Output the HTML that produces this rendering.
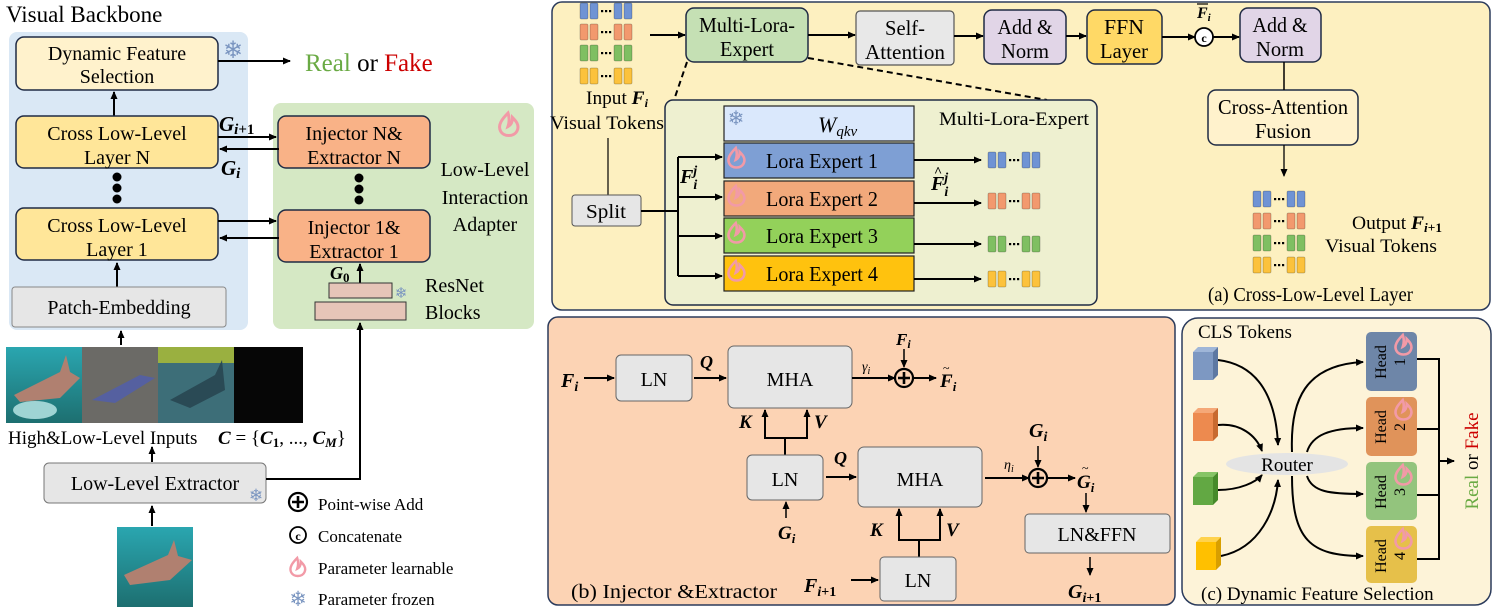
<!DOCTYPE html>
<html><head><meta charset="utf-8">
<style>
html,body{margin:0;padding:0;background:#fff;}
svg{display:block;font-family:"Liberation Serif",serif;}
.b{stroke:#1f2a44;stroke-width:1.5;}
.it{font-style:italic;font-weight:bold;}
</style></head><body>
<svg width="1495" height="607" viewBox="0 0 1495 607" xmlns="http://www.w3.org/2000/svg">
<defs>
<marker id="ar" markerWidth="8" markerHeight="8" refX="7" refY="4" orient="auto" markerUnits="userSpaceOnUse">
<path d="M0,0.5 L8,4 L0,7.5 z" fill="#000"/></marker>
<g id="tk">
<rect x="0" y="0" width="8" height="16" rx="1.5" stroke-width="0.8" stroke="#0004"/>
<rect x="10" y="0" width="8" height="16" rx="1.5" stroke-width="0.8" stroke="#0004"/>
<rect x="21" y="7" width="2.2" height="2.2" fill="#000"/><rect x="25" y="7" width="2.2" height="2.2" fill="#000"/><rect x="29" y="7" width="2.2" height="2.2" fill="#000"/>
<rect x="34" y="0" width="8" height="16" rx="1.5" stroke-width="0.8" stroke="#0004"/>
<rect x="44" y="0" width="8" height="16" rx="1.5" stroke-width="0.8" stroke="#0004"/>
</g>
<g id="fire"><path d="M6,0 C2,4 -1,8 1,12 C3,16 10,16 12,12 C14,8 11,5 9,3 C9,6 8,8 6,9 C7,6 7,3 6,0 z" fill="none" stroke="#f29aa7" stroke-width="2"/></g>
<linearGradient id="sea" x1="0" y1="0" x2="0" y2="1"><stop offset="0" stop-color="#2aa6b0"/><stop offset="1" stop-color="#1d6f70"/></linearGradient>
</defs>

<!-- ===== LEFT ===== -->
<text x="6" y="22" font-size="23">Visual Backbone</text>
<rect x="9" y="32" width="239" height="298" rx="8" fill="#dae8f5"/>
<rect x="273" y="103" width="261" height="226" rx="8" fill="#d5e8c4"/>

<rect x="16" y="37" width="202" height="53" rx="8" fill="#fff2cc" class="b"/>
<text x="117" y="60" font-size="20" text-anchor="middle">Dynamic Feature</text>
<text x="117" y="83" font-size="20" text-anchor="middle">Selection</text>
<text x="233" y="58" font-size="24" fill="#7a95c0" text-anchor="middle">❄</text>
<line x1="218" y1="61" x2="290" y2="61" stroke="#000" stroke-width="2" marker-end="url(#ar)"/>
<text x="305" y="71" font-size="25"><tspan fill="#6aaa44">Real</tspan> or <tspan fill="#cc0000">Fake</tspan></text>

<line x1="114" y1="116" x2="114" y2="92" stroke="#000" stroke-width="2" marker-end="url(#ar)"/>
<rect x="16" y="116" width="202" height="52" rx="8" fill="#ffe699" class="b"/>
<text x="117" y="140" font-size="20" text-anchor="middle">Cross Low-Level</text>
<text x="117" y="164" font-size="20" text-anchor="middle">Layer N</text>
<circle cx="117" cy="177" r="4.5"/><circle cx="117" cy="188" r="4.5"/><circle cx="117" cy="199" r="4.5"/>
<rect x="16" y="208" width="202" height="52" rx="8" fill="#ffe699" class="b"/>
<text x="117" y="232" font-size="20" text-anchor="middle">Cross Low-Level</text>
<text x="117" y="256" font-size="20" text-anchor="middle">Layer 1</text>
<line x1="117" y1="287" x2="117" y2="263" stroke="#000" stroke-width="2" marker-end="url(#ar)"/>
<rect x="12" y="287" width="214" height="40" rx="3" fill="#e6e6e6" stroke="#888" stroke-width="1"/>
<text x="119" y="314" font-size="20" text-anchor="middle">Patch-Embedding</text>

<rect x="278" y="116" width="152" height="52" rx="8" fill="#f9b287" class="b"/>
<text x="354" y="140" font-size="20" text-anchor="middle">Injector N&amp;</text>
<text x="354" y="164" font-size="20" text-anchor="middle">Extractor N</text>
<circle cx="359" cy="178" r="4.5"/><circle cx="359" cy="189" r="4.5"/><circle cx="359" cy="200" r="4.5"/>
<rect x="278" y="210" width="152" height="52" rx="8" fill="#f9b287" class="b"/>
<text x="354" y="234" font-size="20" text-anchor="middle">Injector 1&amp;</text>
<text x="354" y="258" font-size="20" text-anchor="middle">Extractor 1</text>

<line x1="218" y1="137" x2="276" y2="137" stroke="#000" stroke-width="2" marker-end="url(#ar)"/>
<line x1="279" y1="149" x2="220" y2="149" stroke="#000" stroke-width="2" marker-end="url(#ar)"/>
<line x1="218" y1="221" x2="276" y2="221" stroke="#000" stroke-width="2" marker-end="url(#ar)"/>
<line x1="279" y1="238" x2="220" y2="238" stroke="#000" stroke-width="2" marker-end="url(#ar)"/>
<text x="219" y="131" font-size="21" class="it">G<tspan font-size="15" dy="3">i</tspan><tspan font-size="15" font-style="normal">+1</tspan></text>
<text x="221" y="175" font-size="21" class="it">G<tspan font-size="15" dy="3">i</tspan></text>

<use href="#fire" transform="translate(499,113) scale(1.5)"/>
<text x="485" y="176" font-size="20" text-anchor="middle">Low-Level</text>
<text x="485" y="204" font-size="20" text-anchor="middle">Interaction</text>
<text x="485" y="231" font-size="20" text-anchor="middle">Adapter</text>

<text x="330" y="279" font-size="18" class="it">G<tspan font-size="13" dy="3" font-style="normal">0</tspan></text>
<line x1="360" y1="283" x2="360" y2="264" stroke="#000" stroke-width="2" marker-end="url(#ar)"/>
<rect x="329" y="283" width="63" height="15" fill="#e6c5b8" stroke="#333" stroke-width="1"/>
<rect x="315" y="302" width="91" height="18" fill="#e6c5b8" stroke="#333" stroke-width="1"/>
<text x="401" y="298" font-size="15" fill="#7a95c0" text-anchor="middle">❄</text>
<text x="425" y="292" font-size="20">ResNet</text>
<text x="425" y="319" font-size="20">Blocks</text>

<line x1="121" y1="345" x2="121" y2="331" stroke="#000" stroke-width="2" marker-end="url(#ar)"/>
<rect x="6" y="347" width="76" height="76" fill="url(#sea)"/>
<path d="M14,395 L60,372 L66,355 L70,372 L80,378 L60,398 L20,402 z" fill="#b08070"/>
<ellipse cx="35" cy="410" rx="22" ry="9" fill="#9fd4d4"/>
<rect x="82" y="347" width="76" height="76" fill="#6b6a66"/>
<path d="M92,400 L140,375 L155,378 L115,403 z" fill="#5560a0"/>
<rect x="158" y="347" width="76" height="76" fill="#3d6e78"/>
<rect x="158" y="347" width="76" height="16" fill="#9ab040"/>
<path d="M170,400 L215,375 L222,360 L225,390 L190,408 z" fill="#2a4a55"/>
<rect x="234" y="347" width="69" height="76" fill="#060606"/>
<text x="8" y="444" font-size="19">High&amp;Low-Level Inputs</text>
<text x="218" y="444" font-size="19" class="it">C <tspan font-style="normal" font-weight="normal">= {</tspan>C<tspan font-size="13" dy="3" font-style="normal">1</tspan><tspan dy="-3" font-style="normal" font-weight="normal">, ..., </tspan>C<tspan font-size="13" dy="3">M</tspan><tspan dy="-3" font-style="normal" font-weight="normal">}</tspan></text>
<line x1="152" y1="462" x2="152" y2="447" stroke="#000" stroke-width="2" marker-end="url(#ar)"/>
<rect x="44" y="463" width="222" height="40" rx="5" fill="#e6e6e6" stroke="#777" stroke-width="1"/>
<text x="155" y="490" font-size="20" text-anchor="middle">Low-Level Extractor</text>
<text x="256" y="501" font-size="17" fill="#7a95c0" text-anchor="middle">❄</text>
<polyline points="266,479 360,479 360,323" fill="none" stroke="#000" stroke-width="2" marker-end="url(#ar)"/>
<line x1="152" y1="526" x2="152" y2="506" stroke="#000" stroke-width="2" marker-end="url(#ar)"/>
<rect x="117" y="527" width="76" height="80" fill="url(#sea)"/>
<path d="M124,575 L168,555 L174,540 L178,556 L192,560 L170,580 L130,585 z" fill="#b08070"/>
<circle cx="298" cy="502" r="9" fill="none" stroke="#000" stroke-width="2.2"/>
<path d="M292,502 H304 M298,496 V508" stroke="#000" stroke-width="2.6"/>
<text x="318" y="510" font-size="17">Point-wise Add</text>
<circle cx="298" cy="535" r="8" fill="none" stroke="#000" stroke-width="1.8"/>
<text x="298" y="540" font-size="12" text-anchor="middle" font-weight="bold">c</text>
<text x="318" y="542" font-size="17">Concatenate</text>
<use href="#fire" transform="translate(290,558) scale(1.2)"/>
<text x="318" y="574" font-size="17">Parameter learnable</text>
<text x="298" y="606" font-size="21" fill="#7a95c0" text-anchor="middle">❄</text>
<text x="318" y="605" font-size="17">Parameter frozen</text>

<!-- ===== PANEL A ===== -->
<rect x="552" y="2" width="938" height="308" rx="10" fill="#fdf0c0" stroke="#2b3b5c" stroke-width="1.5"/>
<use href="#tk" x="580" y="3" fill="#6f93d4"/>
<use href="#tk" x="580" y="24" fill="#f2996e"/>
<use href="#tk" x="580" y="45" fill="#7fbf62"/>
<use href="#tk" x="580" y="68" fill="#fcc23c"/>
<line x1="650" y1="35" x2="685" y2="35" stroke="#000" stroke-width="2" marker-end="url(#ar)"/>
<g font-size="21">
<rect x="686" y="8" width="122" height="54" rx="8" fill="#c5e0b4" class="b"/>
<text x="747" y="32" text-anchor="middle" textLength="96" lengthAdjust="spacingAndGlyphs">Multi-Lora-</text>
<text x="747" y="56" text-anchor="middle" textLength="54" lengthAdjust="spacingAndGlyphs">Expert</text>
<line x1="808" y1="35" x2="855" y2="35" stroke="#000" stroke-width="2" marker-end="url(#ar)"/>
<rect x="856" y="11" width="98" height="54" rx="4" fill="#e8e8e8" stroke="#555" stroke-width="1.2"/>
<text x="905" y="35" text-anchor="middle" textLength="40" lengthAdjust="spacingAndGlyphs">Self-</text>
<text x="905" y="59" text-anchor="middle" textLength="80" lengthAdjust="spacingAndGlyphs">Attention</text>
<line x1="954" y1="36" x2="983" y2="36" stroke="#000" stroke-width="2" marker-end="url(#ar)"/>
<rect x="984" y="10" width="82" height="54" rx="8" fill="#e1d5e7" class="b"/>
<text x="1025" y="34" text-anchor="middle" textLength="55" lengthAdjust="spacingAndGlyphs">Add &amp;</text>
<text x="1025" y="58" text-anchor="middle" textLength="48" lengthAdjust="spacingAndGlyphs">Norm</text>
<line x1="1066" y1="36" x2="1086" y2="36" stroke="#000" stroke-width="2" marker-end="url(#ar)"/>
<rect x="1087" y="10" width="75" height="54" rx="8" fill="#ffd966" class="b"/>
<text x="1124" y="34" text-anchor="middle" textLength="40" lengthAdjust="spacingAndGlyphs">FFN</text>
<text x="1124" y="58" text-anchor="middle" textLength="48" lengthAdjust="spacingAndGlyphs">Layer</text>
<rect x="1240" y="8" width="81" height="54" rx="8" fill="#e1d5e7" class="b"/>
<text x="1280" y="32" text-anchor="middle" textLength="55" lengthAdjust="spacingAndGlyphs">Add &amp;</text>
<text x="1280" y="56" text-anchor="middle" textLength="48" lengthAdjust="spacingAndGlyphs">Norm</text>
<rect x="1208" y="90" width="150" height="55" rx="8" fill="#fff2cc" class="b"/>
<text x="1283" y="114" text-anchor="middle" textLength="130" lengthAdjust="spacingAndGlyphs">Cross-Attention</text>
<text x="1283" y="138" text-anchor="middle" textLength="56" lengthAdjust="spacingAndGlyphs">Fusion</text>
</g>
<line x1="1162" y1="37" x2="1195" y2="37" stroke="#000" stroke-width="2" marker-end="url(#ar)"/>
<circle cx="1204" cy="37" r="9" fill="#fff" stroke="#000" stroke-width="1.8"/>
<text x="1204" y="42" font-size="12" text-anchor="middle" font-weight="bold">c</text>
<text x="1197" y="18" font-size="16" class="it">F<tspan font-size="11" dy="3">i</tspan></text>
<line x1="1197" y1="4" x2="1208" y2="4" stroke="#000" stroke-width="1.2"/>
<line x1="1213" y1="37" x2="1239" y2="37" stroke="#000" stroke-width="2" marker-end="url(#ar)"/>
<line x1="1284" y1="62" x2="1284" y2="90" stroke="#000" stroke-width="1.5"/>
<line x1="1284" y1="145" x2="1284" y2="176" stroke="#000" stroke-width="1.3" marker-end="url(#ar)"/>
<use href="#tk" x="1253" y="191" fill="#6f93d4"/>
<use href="#tk" x="1253" y="213" fill="#f2996e"/>
<use href="#tk" x="1253" y="235" fill="#7fbf62"/>
<use href="#tk" x="1253" y="257" fill="#fcc23c"/>
<text x="1352" y="229" font-size="19" textLength="90" lengthAdjust="spacingAndGlyphs">Output <tspan class="it">F</tspan><tspan font-size="13" dy="3" class="it">i</tspan><tspan font-size="13" font-weight="bold">+1</tspan></text>
<text x="1325" y="252" font-size="19" textLength="112" lengthAdjust="spacingAndGlyphs">Visual Tokens</text>
<text x="1208" y="301" font-size="20" textLength="205" lengthAdjust="spacingAndGlyphs">(a)  Cross-Low-Level Layer</text>

<text x="586" y="104" font-size="19" textLength="62" lengthAdjust="spacingAndGlyphs">Input <tspan class="it">F</tspan><tspan font-size="12" dy="3" class="it">i</tspan></text>
<text x="550" y="129" font-size="19" textLength="114" lengthAdjust="spacingAndGlyphs">Visual Tokens</text>
<line x1="608" y1="138" x2="608" y2="196" stroke="#000" stroke-width="1.2"/>
<line x1="687" y1="62" x2="674" y2="100" stroke="#000" stroke-width="2" stroke-dasharray="6,4"/>
<line x1="808" y1="58" x2="1047" y2="100" stroke="#000" stroke-width="2" stroke-dasharray="6,4"/>
<rect x="665" y="100" width="432" height="205" rx="8" fill="#eef0d0" class="b"/>
<text x="1089" y="125" font-size="19" text-anchor="end" textLength="150" lengthAdjust="spacingAndGlyphs">Multi-Lora-Expert</text>
<rect x="572" y="195" width="69" height="31" rx="3" fill="#e6e6e6" stroke="#555" stroke-width="1"/>
<text x="606" y="218" font-size="20" text-anchor="middle" textLength="40" lengthAdjust="spacingAndGlyphs">Split</text>
<line x1="641" y1="211" x2="678" y2="211" stroke="#000" stroke-width="2"/>
<line x1="678" y1="157" x2="678" y2="276" stroke="#000" stroke-width="2"/>
<line x1="678" y1="157" x2="722" y2="157" stroke="#000" stroke-width="2" marker-end="url(#ar)"/>
<line x1="678" y1="197" x2="722" y2="197" stroke="#000" stroke-width="2" marker-end="url(#ar)"/>
<line x1="678" y1="236" x2="722" y2="236" stroke="#000" stroke-width="2" marker-end="url(#ar)"/>
<line x1="678" y1="276" x2="722" y2="276" stroke="#000" stroke-width="2" marker-end="url(#ar)"/>
<text x="680" y="183" font-size="20" class="it">F<tspan font-size="14" dy="6">i</tspan><tspan font-size="14" dx="-4" dy="-14">j</tspan></text>
<rect x="724" y="106" width="190" height="35" fill="#dae8fc" stroke="#222" stroke-width="1.2"/>
<text x="736" y="125" font-size="20" fill="#7a95c0" text-anchor="middle">❄</text>
<text x="818" y="132" font-size="22" font-style="italic">W<tspan font-size="15" dy="4">qkv</tspan></text>
<rect x="724" y="143" width="190" height="35" fill="#7e9fd4" stroke="#222" stroke-width="1.2"/>
<rect x="724" y="181" width="190" height="35" fill="#f2a97b" stroke="#222" stroke-width="1.2"/>
<rect x="724" y="218" width="190" height="35" fill="#93d15a" stroke="#222" stroke-width="1.2"/>
<rect x="724" y="256" width="190" height="35" fill="#ffc20e" stroke="#222" stroke-width="1.2"/>
<use href="#fire" transform="translate(728,148) scale(1.3)"/>
<use href="#fire" transform="translate(728,186) scale(1.3)"/>
<use href="#fire" transform="translate(728,223) scale(1.3)"/>
<use href="#fire" transform="translate(728,261) scale(1.3)"/>
<g font-size="21">
<text x="822" y="168" text-anchor="middle" textLength="112" lengthAdjust="spacingAndGlyphs">Lora Expert 1</text>
<text x="822" y="206" text-anchor="middle" textLength="112" lengthAdjust="spacingAndGlyphs">Lora Expert 2</text>
<text x="822" y="243" text-anchor="middle" textLength="112" lengthAdjust="spacingAndGlyphs">Lora Expert 3</text>
<text x="822" y="281" text-anchor="middle" textLength="112" lengthAdjust="spacingAndGlyphs">Lora Expert 4</text>
</g>
<line x1="914" y1="160" x2="981" y2="160" stroke="#000" stroke-width="2" marker-end="url(#ar)"/>
<line x1="914" y1="203" x2="981" y2="203" stroke="#000" stroke-width="2" marker-end="url(#ar)"/>
<line x1="914" y1="244" x2="981" y2="244" stroke="#000" stroke-width="2" marker-end="url(#ar)"/>
<line x1="914" y1="279" x2="981" y2="279" stroke="#000" stroke-width="2" marker-end="url(#ar)"/>
<use href="#tk" x="988" y="152" fill="#6f93d4"/>
<use href="#tk" x="988" y="193" fill="#f2996e"/>
<use href="#tk" x="988" y="236" fill="#7fbf62"/>
<use href="#tk" x="988" y="271" fill="#fcc23c"/>
<text x="931" y="190" font-size="20" class="it">F<tspan font-size="14" dy="6">i</tspan><tspan font-size="14" dx="-4" dy="-14">j</tspan></text>
<text x="934" y="176" font-size="14" font-weight="bold">^</text>

<!-- ===== PANEL B ===== -->
<rect x="548" y="317" width="627" height="288" rx="10" fill="#fcd3b4" stroke="#2b3b5c" stroke-width="1.5"/>
<text x="561" y="387" font-size="20" class="it">F<tspan font-size="14" dy="4">i</tspan></text>
<line x1="584" y1="378" x2="614" y2="378" stroke="#000" stroke-width="2" marker-end="url(#ar)"/>
<rect x="616" y="355" width="76" height="46" rx="5" fill="#e6e6e6" stroke="#666" stroke-width="1"/>
<text x="654" y="386" font-size="20" text-anchor="middle">LN</text>
<text x="700" y="368" font-size="18" class="it">Q</text>
<line x1="694" y1="378" x2="726" y2="378" stroke="#000" stroke-width="2" marker-end="url(#ar)"/>
<rect x="728" y="346" width="124" height="62" rx="6" fill="#e6e6e6" stroke="#666" stroke-width="1"/>
<text x="790" y="386" font-size="20" text-anchor="middle">MHA</text>
<text x="862" y="371" font-size="14" font-style="italic">γ<tspan font-size="10" dy="3">i</tspan></text>
<line x1="852" y1="378" x2="895" y2="378" stroke="#000" stroke-width="2" marker-end="url(#ar)"/>
<circle cx="904" cy="378" r="9" fill="none" stroke="#000" stroke-width="2.2"/>
<path d="M898,378 H910 M904,372 V384" stroke="#000" stroke-width="2.6"/>
<text x="896" y="345" font-size="17" class="it">F<tspan font-size="12" dy="3">i</tspan></text>
<line x1="904" y1="349" x2="904" y2="367" stroke="#000" stroke-width="1.5" marker-end="url(#ar)"/>
<line x1="913" y1="378" x2="936" y2="378" stroke="#000" stroke-width="2" marker-end="url(#ar)"/>
<text x="940" y="387" font-size="19" class="it">F<tspan font-size="13" dy="4">i</tspan></text>
<text x="943" y="372" font-size="12">~</text>
<polyline points="765,410 765,438 807,438 807,410" fill="none" stroke="#000" stroke-width="2"/>
<line x1="765" y1="420" x2="765" y2="410" stroke="#000" stroke-width="2" marker-end="url(#ar)"/>
<line x1="807" y1="420" x2="807" y2="410" stroke="#000" stroke-width="2" marker-end="url(#ar)"/>
<line x1="785" y1="438" x2="785" y2="455" stroke="#000" stroke-width="2"/>
<text x="739" y="428" font-size="19" class="it">K</text>
<text x="814" y="428" font-size="19" class="it">V</text>
<rect x="747" y="455" width="76" height="45" rx="5" fill="#e6e6e6" stroke="#666" stroke-width="1"/>
<text x="785" y="486" font-size="20" text-anchor="middle">LN</text>
<line x1="786" y1="518" x2="786" y2="502" stroke="#000" stroke-width="1.5" marker-end="url(#ar)"/>
<text x="778" y="539" font-size="19" class="it">G<tspan font-size="13" dy="4">i</tspan></text>
<text x="834" y="464" font-size="18" class="it">Q</text>
<line x1="826" y1="477" x2="856" y2="477" stroke="#000" stroke-width="2" marker-end="url(#ar)"/>
<rect x="858" y="447" width="124" height="60" rx="6" fill="#e6e6e6" stroke="#666" stroke-width="1"/>
<text x="920" y="486" font-size="20" text-anchor="middle">MHA</text>
<text x="1004" y="469" font-size="14" font-style="italic">η<tspan font-size="10" dy="3">i</tspan></text>
<line x1="985" y1="478" x2="1029" y2="478" stroke="#000" stroke-width="2" marker-end="url(#ar)"/>
<circle cx="1038" cy="478" r="9" fill="none" stroke="#000" stroke-width="2.2"/>
<path d="M1032,478 H1044 M1038,472 V484" stroke="#000" stroke-width="2.6"/>
<text x="1029" y="437" font-size="20" class="it">G<tspan font-size="14" dy="4">i</tspan></text>
<line x1="1038" y1="446" x2="1038" y2="467" stroke="#000" stroke-width="1.5" marker-end="url(#ar)"/>
<line x1="1047" y1="478" x2="1075" y2="478" stroke="#000" stroke-width="2" marker-end="url(#ar)"/>
<text x="1077" y="488" font-size="19" class="it">G<tspan font-size="13" dy="4">i</tspan></text>
<text x="1082" y="472" font-size="12">~</text>
<line x1="1086" y1="493" x2="1086" y2="512" stroke="#000" stroke-width="1.5" marker-end="url(#ar)"/>
<rect x="1025" y="514" width="145" height="39" rx="4" fill="#e6e6e6" stroke="#666" stroke-width="1"/>
<text x="1097" y="541" font-size="20" text-anchor="middle">LN&amp;FFN</text>
<line x1="1090" y1="557" x2="1090" y2="575" stroke="#000" stroke-width="1.5" marker-end="url(#ar)"/>
<text x="1068" y="598" font-size="20" class="it">G<tspan font-size="14" dy="4">i</tspan><tspan font-size="14" font-style="normal">+1</tspan></text>
<polyline points="899,509 899,540 940,540 940,509" fill="none" stroke="#000" stroke-width="2"/>
<line x1="899" y1="520" x2="899" y2="509" stroke="#000" stroke-width="2" marker-end="url(#ar)"/>
<line x1="940" y1="520" x2="940" y2="509" stroke="#000" stroke-width="2" marker-end="url(#ar)"/>
<line x1="919" y1="540" x2="919" y2="557" stroke="#000" stroke-width="2"/>
<text x="870" y="536" font-size="19" class="it">K</text>
<text x="946" y="536" font-size="19" class="it">V</text>
<rect x="880" y="557" width="76" height="44" rx="4" fill="#e6e6e6" stroke="#666" stroke-width="1"/>
<text x="918" y="587" font-size="20" text-anchor="middle">LN</text>
<text x="804" y="592" font-size="20" class="it">F<tspan font-size="14" dy="4">i</tspan><tspan font-size="14" font-style="normal">+1</tspan></text>
<line x1="851" y1="580" x2="878" y2="580" stroke="#000" stroke-width="2" marker-end="url(#ar)"/>
<text x="571" y="598" font-size="20" textLength="206" lengthAdjust="spacingAndGlyphs">(b) Injector &amp;Extractor</text>

<!-- ===== PANEL C ===== -->
<rect x="1182" y="318" width="309" height="287" rx="16" fill="#fdf3d8" stroke="#2b3b5c" stroke-width="1.5"/>
<text x="1198" y="338" font-size="19">CLS Tokens</text>
<g stroke="none">
<rect x="1193" y="352" width="20" height="28" fill="#7d98c2"/><path d="M1193,352 l5,-5 h20 l-5,5z" fill="#9fb6d8"/><path d="M1213,352 l5,-5 v28 l-5,5z" fill="#5d78a2"/>
<rect x="1193" y="413" width="20" height="28" fill="#ed8a4f"/><path d="M1193,413 l5,-5 h20 l-5,5z" fill="#f5a878"/><path d="M1213,413 l5,-5 v28 l-5,5z" fill="#c86a30"/>
<rect x="1193" y="477" width="20" height="28" fill="#62a843"/><path d="M1193,477 l5,-5 h20 l-5,5z" fill="#86c466"/><path d="M1213,477 l5,-5 v28 l-5,5z" fill="#468a2a"/>
<rect x="1196" y="542" width="20" height="28" fill="#ffc000"/><path d="M1196,542 l5,-5 h20 l-5,5z" fill="#ffd24d"/><path d="M1216,542 l5,-5 v28 l-5,5z" fill="#d89f00"/>
</g>
<ellipse cx="1287" cy="464" rx="61" ry="11" fill="#e4e4e4"/>
<text x="1287" y="471" font-size="19" text-anchor="middle">Router</text>
<g fill="none" stroke="#000" stroke-width="2">
<path d="M1218,360 C1260,365 1276,400 1278,445" marker-end="url(#ar)"/>
<path d="M1218,425 C1240,423 1256,435 1262,451" marker-end="url(#ar)"/>
<path d="M1218,490 C1240,490 1256,482 1262,475" marker-end="url(#ar)"/>
<path d="M1221,556 C1260,548 1276,510 1278,480" marker-end="url(#ar)"/>
<path d="M1292,452 C1290,400 1305,365 1363,362" marker-end="url(#ar)"/>
<path d="M1307,452 C1312,435 1330,428 1363,428" marker-end="url(#ar)"/>
<path d="M1307,476 C1312,492 1330,494 1363,494" marker-end="url(#ar)"/>
<path d="M1292,476 C1292,540 1310,556 1363,556" marker-end="url(#ar)"/>
</g>
<rect x="1366" y="332" width="51" height="59" rx="5" fill="#6e86a8"/>
<rect x="1366" y="397" width="51" height="59" rx="5" fill="#e0935a"/>
<rect x="1366" y="462" width="51" height="58" rx="5" fill="#93c47d"/>
<rect x="1366" y="526" width="51" height="57" rx="5" fill="#e6c04a"/>
<use href="#fire" transform="translate(1395,335) scale(1.3)"/>
<use href="#fire" transform="translate(1395,400) scale(1.3)"/>
<use href="#fire" transform="translate(1395,465) scale(1.3)"/>
<use href="#fire" transform="translate(1395,529) scale(1.3)"/>
<g font-size="16">
<text transform="translate(1386,362) rotate(-90)" text-anchor="middle">Head</text>
<text transform="translate(1405,362) rotate(-90)" text-anchor="middle">1</text>
<text transform="translate(1386,427) rotate(-90)" text-anchor="middle">Head</text>
<text transform="translate(1405,427) rotate(-90)" text-anchor="middle">2</text>
<text transform="translate(1386,492) rotate(-90)" text-anchor="middle">Head</text>
<text transform="translate(1405,492) rotate(-90)" text-anchor="middle">3</text>
<text transform="translate(1386,556) rotate(-90)" text-anchor="middle">Head</text>
<text transform="translate(1405,556) rotate(-90)" text-anchor="middle">4</text>
</g>
<g fill="none" stroke="#000" stroke-width="2">
<polyline points="1417,359 1439,359 1439,559 1417,559"/>
<line x1="1417" y1="429" x2="1439" y2="429"/>
<line x1="1417" y1="495" x2="1439" y2="495"/>
<line x1="1439" y1="461" x2="1454" y2="461" marker-end="url(#ar)"/>
</g>
<text transform="translate(1478,461) rotate(-90)" font-size="19" text-anchor="middle"><tspan fill="#6aaa44">Real</tspan> or <tspan fill="#cc0000">Fake</tspan></text>
<text x="1201" y="600" font-size="19">(c) Dynamic Feature Selection</text>
</svg>
</body></html>
